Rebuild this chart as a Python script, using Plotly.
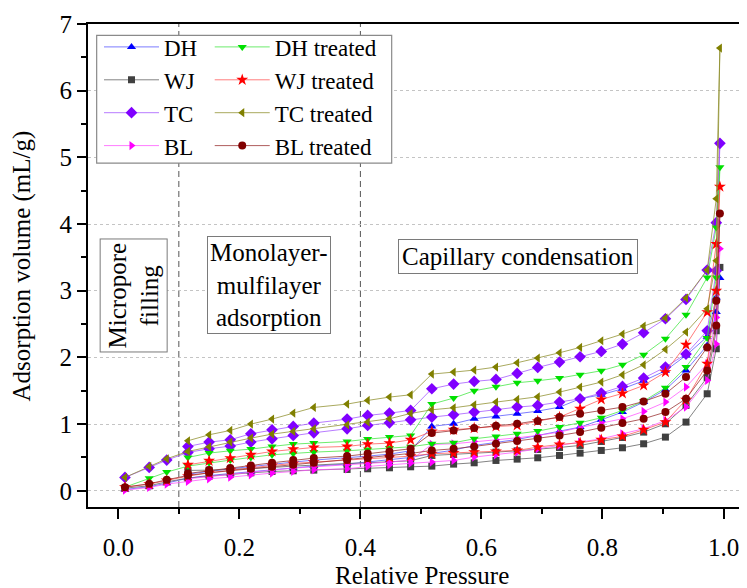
import plotly.graph_objects as go

# Relative pressure points: adsorption branch (up) and desorption branch (down)
P_ADS = [0.011, 0.051, 0.080, 0.115, 0.150, 0.185, 0.219, 0.254, 0.289, 0.323,
         0.378, 0.412, 0.448, 0.483, 0.518, 0.554, 0.588, 0.624, 0.659, 0.693,
         0.729, 0.763, 0.798, 0.833, 0.868, 0.904, 0.938, 0.973, 0.988, 0.994]
P_DES = [0.988, 0.973, 0.938, 0.904, 0.868, 0.833, 0.798, 0.763, 0.729, 0.693,
         0.659, 0.624, 0.588, 0.554, 0.518, 0.483, 0.448, 0.412, 0.378, 0.323,
         0.289, 0.254, 0.219, 0.185, 0.150, 0.115]

DH_ADS = [0.02, 0.06, 0.115, 0.19, 0.23, 0.26, 0.29, 0.32, 0.35, 0.37,
          0.40, 0.43, 0.46, 0.50, 0.56, 0.61, 0.68, 0.73, 0.77, 0.83,
          0.89, 0.955, 1.065, 1.18, 1.33, 1.515, 1.805, 2.18, 2.68, 3.19]
DH_DES = [2.9, 2.31, 2.03, 1.80, 1.65, 1.53, 1.44, 1.38, 1.255, 1.195,
          1.155, 1.115, 1.08, 1.005, 0.965, 0.60, 0.55, 0.52, 0.50, 0.46,
          0.43, 0.40, 0.37, 0.33, 0.29, 0.25]

WJ_ADS = [0.04, 0.075, 0.135, 0.19, 0.22, 0.25, 0.27, 0.29, 0.30, 0.31,
          0.32, 0.33, 0.345, 0.36, 0.37, 0.40, 0.42, 0.455, 0.475, 0.495,
          0.53, 0.565, 0.605, 0.645, 0.705, 0.805, 1.03, 1.455, 2.13, 3.35]
WJ_DES = [2.4, 1.70, 1.28, 1.005, 0.88, 0.80, 0.74, 0.68, 0.65, 0.62,
          0.60, 0.58, 0.56, 0.545, 0.53, 0.45, 0.43, 0.42, 0.41, 0.39,
          0.37, 0.35, 0.33, 0.32, 0.31, 0.305]

TC_ADS = [0.20, 0.35, 0.46, 0.575, 0.63, 0.67, 0.73, 0.78, 0.83, 0.87,
          0.93, 0.98, 1.02, 1.065, 1.105, 1.14, 1.18, 1.215, 1.255, 1.28,
          1.33, 1.38, 1.465, 1.565, 1.69, 1.855, 2.05, 2.40, 3.3, 5.21]
TC_DES = [4.02, 3.31, 2.87, 2.58, 2.37, 2.20, 2.09, 2.01, 1.93, 1.85,
          1.76, 1.67, 1.64, 1.60, 1.53, 1.205, 1.165, 1.13, 1.075, 1.015,
          0.965, 0.915, 0.855, 0.765, 0.73, 0.665]

BL_ADS = [0.01, 0.05, 0.10, 0.14, 0.18, 0.205, 0.24, 0.265, 0.29, 0.315,
          0.33, 0.365, 0.39, 0.415, 0.43, 0.455, 0.505, 0.54, 0.58, 0.63,
          0.68, 0.73, 0.78, 0.855, 0.93, 1.055, 1.255, 1.655, 2.2, 3.63]
BL_DES = [2.6, 1.905, 1.555, 1.33, 1.19, 1.08, 1.02, 0.95, 0.88, 0.83,
          0.795, 0.765, 0.74, 0.705, 0.695, 0.46, 0.43, 0.41, 0.39, 0.36,
          0.34, 0.31, 0.28, 0.25, 0.22, 0.18]

DHT_ADS = [0.055, 0.19, 0.28, 0.37, 0.42, 0.46, 0.50, 0.54, 0.56, 0.58,
           0.60, 0.62, 0.64, 0.66, 0.705, 0.72, 0.78, 0.815, 0.855, 0.895,
           0.955, 1.02, 1.095, 1.205, 1.345, 1.545, 1.855, 2.29, 3.2, 4.85]
DHT_DES = [3.95, 3.20, 2.64, 2.28, 2.04, 1.89, 1.80, 1.74, 1.69, 1.65,
           1.62, 1.56, 1.50, 1.39, 1.30, 0.83, 0.805, 0.775, 0.74, 0.715,
           0.70, 0.665, 0.625, 0.60, 0.565, 0.50]

WJT_ADS = [0.055, 0.10, 0.155, 0.22, 0.27, 0.31, 0.35, 0.38, 0.41, 0.43,
           0.46, 0.48, 0.50, 0.52, 0.556, 0.566, 0.58, 0.59, 0.605, 0.655,
           0.695, 0.72, 0.765, 0.815, 0.915, 1.03, 1.365, 1.905, 3.0, 4.56]
WJT_DES = [3.7, 2.68, 2.19, 1.78, 1.58, 1.46, 1.37, 1.23, 1.105, 1.045,
           0.98, 0.965, 0.94, 0.915, 0.89, 0.765, 0.715, 0.70, 0.665, 0.65,
           0.625, 0.59, 0.54, 0.49, 0.45, 0.39]

TCT_ADS = [0.20, 0.365, 0.48, 0.59, 0.66, 0.73, 0.79, 0.85, 0.89, 0.93,
           0.99, 1.03, 1.08, 1.16, 1.215, 1.245, 1.29, 1.33, 1.37, 1.41,
           1.48, 1.555, 1.63, 1.74, 1.89, 2.12, 2.38, 2.73, 3.45, 6.64]
TCT_DES = [4.38, 3.31, 2.89, 2.59, 2.47, 2.35, 2.25, 2.15, 2.07, 1.99,
           1.92, 1.855, 1.81, 1.78, 1.75, 1.44, 1.405, 1.355, 1.30, 1.25,
           1.165, 1.075, 1.0, 0.905, 0.84, 0.75]

BLT_ADS = [0.055, 0.105, 0.165, 0.23, 0.27, 0.30, 0.33, 0.36, 0.39, 0.42,
           0.46, 0.49, 0.52, 0.56, 0.605, 0.63, 0.665, 0.705, 0.745, 0.78,
           0.83, 0.88, 0.945, 1.015, 1.08, 1.18, 1.38, 1.805, 2.48, 4.16]
BLT_DES = [2.85, 2.15, 1.705, 1.455, 1.34, 1.255, 1.205, 1.155, 1.105, 1.045,
           1.005, 0.975, 0.94, 0.905, 0.865, 0.63, 0.59, 0.56, 0.52, 0.49,
           0.46, 0.42, 0.38, 0.34, 0.31, 0.26]

SERIES_NAMES = ["DH", "WJ", "TC", "BL", "DH treated", "WJ treated", "TC treated", "BL treated"]
SERIES_ADS = [DH_ADS, WJ_ADS, TC_ADS, BL_ADS, DHT_ADS, WJT_ADS, TCT_ADS, BLT_ADS]
SERIES_DES = [DH_DES, WJ_DES, TC_DES, BL_DES, DHT_DES, WJT_DES, TCT_DES, BLT_DES]

COLORS = ["#0000FF", "#404040", "#8000FF", "#FF00FF", "#00E000", "#FF0000", "#808000", "#800000"]
LINE_COLORS = ["rgba(80,80,255,0.75)", "rgba(90,90,90,0.75)", "rgba(160,80,255,0.75)", "rgba(255,80,255,0.75)",
               "rgba(60,230,60,0.75)", "rgba(255,80,80,0.75)", "rgba(140,140,40,0.75)", "rgba(150,40,40,0.75)"]
SYMBOLS = ["triangle-up", "square", "diamond", "triangle-right",
           "triangle-down", "star", "triangle-left", "circle"]
SIZES = [8, 7, 9, 8, 8, 9, 8, 8]

FONT = "Liberation Serif, Times New Roman, serif"

fig = go.Figure()
for i, name in enumerate(SERIES_NAMES):
    fig.add_trace(go.Scatter(
        x=P_ADS + P_DES,
        y=SERIES_ADS[i] + SERIES_DES[i],
        mode="lines+markers",
        name=name,
        legend="legend" if i < 4 else "legend2",
        line=dict(color=LINE_COLORS[i], width=1),
        marker=dict(symbol=SYMBOLS[i], size=SIZES[i], color=COLORS[i], line=dict(width=0)),
    ))

axis_font = dict(family=FONT, size=25, color="black")
legend_font = dict(family=FONT, size=23, color="black")

fig.update_layout(
    width=747, height=588,
    margin=dict(l=80, r=0, t=16, b=89),
    paper_bgcolor="white", plot_bgcolor="white",
    font=dict(family=FONT, color="black"),
    xaxis=dict(
        range=[-0.0501, 1.052], tickmode="array",
        tickvals=[0, 0.2, 0.4, 0.6, 0.8, 1.0],
        ticktext=["0.0", "0.2", "0.4", "0.6", "0.8", "1.0"],
        ticks="outside", ticklen=10, tickwidth=1.5, tickcolor="black",
        showline=True, linewidth=2, linecolor="black", mirror=True,
        showgrid=False, zeroline=False, tickfont=axis_font,
        ticklabelstandoff=7,
        minor=dict(ticks="outside", ticklen=5, tickwidth=1.5, tickcolor="black",
                   tickvals=[0.1, 0.3, 0.5, 0.7, 0.9], showgrid=False),
    ),
    yaxis=dict(
        range=[-0.243, 7.0], tickmode="linear", tick0=0, dtick=1,
        ticks="outside", ticklen=9, tickwidth=1.5, tickcolor="black",
        showline=True, linewidth=2, linecolor="black", mirror=False,
        showgrid=True, gridcolor="#c4c4c4", gridwidth=1, griddash="3px,3px",
        zeroline=False, tickfont=axis_font,
        minor=dict(ticks="outside", ticklen=5, tickwidth=1.5, tickcolor="black",
                   dtick=0.5, tick0=0, showgrid=False),
    ),
    legend=dict(x=0.0165, y=0.997, xanchor="left", yanchor="top",
                bgcolor="rgba(0,0,0,0)", borderwidth=0, itemwidth=55,
                font=legend_font, tracegroupgap=0),
    legend2=dict(x=0.1825, y=0.997, xanchor="left", yanchor="top",
                 bgcolor="rgba(0,0,0,0)", borderwidth=0, itemwidth=55,
                 font=legend_font, tracegroupgap=0),
    showlegend=True,
)

shapes = [
    dict(type="line", xref="x", yref="paper", x0=0.1, x1=0.1, y0=0, y1=1,
         line=dict(color="#555555", width=1, dash="6px,4px"), layer="between"),
    dict(type="line", xref="x", yref="paper", x0=0.4, x1=0.4, y0=0, y1=1,
         line=dict(color="#555555", width=1, dash="6px,4px"), layer="between"),
    dict(type="rect", xref="paper", yref="paper", x0=0.013, x1=0.4553, y0=0.712, y1=0.9764,
         line=dict(color="#8a8a8a", width=1.2), fillcolor="white", layer="above"),
]
fig.update_layout(shapes=shapes)

box_font = dict(family=FONT, size=25, color="black")
annotations = [
    dict(x=0.026, y=2.93, xref="x", yref="y", text="Micropore<br>filling", textangle=-90,
         showarrow=False, font=box_font, bordercolor="#7a7a7a", borderwidth=1, borderpad=3,
         bgcolor="white"),
    dict(x=0.2496, y=3.09, xref="x", yref="y", text="Monolayer-<br>mulfilayer<br>adsorption",
         showarrow=False, font=box_font, bordercolor="#7a7a7a", borderwidth=1, borderpad=2,
         bgcolor="white"),
    dict(x=0.661, y=3.52, xref="x", yref="y", text="Capillary condensation",
         showarrow=False, font=box_font, bordercolor="#7a7a7a", borderwidth=1, borderpad=3,
         bgcolor="white"),
    dict(x=0.5, y=-0.141, xref="paper", yref="paper", text="Relative Pressure",
         showarrow=False, font=axis_font, xanchor="center", yanchor="middle"),
    dict(x=-0.099, y=0.5, xref="paper", yref="paper", text="Adsorption volume (mL/g)",
         textangle=-90, showarrow=False, font=axis_font, xanchor="center", yanchor="middle"),
]
fig.update_layout(annotations=annotations)

fig.write_html("out.html")
